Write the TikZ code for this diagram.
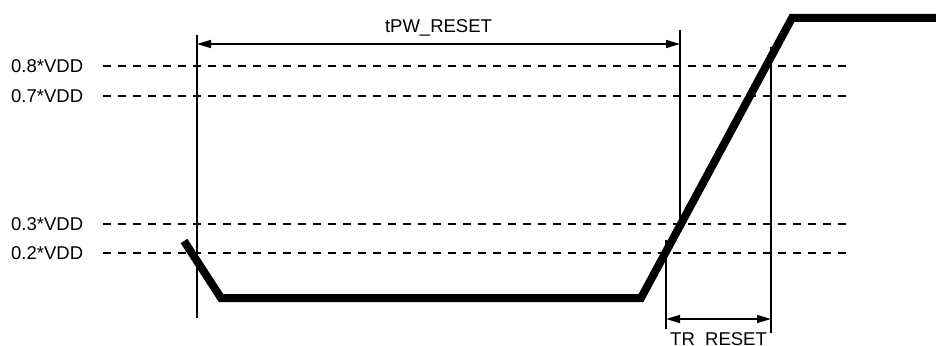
\documentclass[tikz,border=0pt]{standalone}
\usepackage{fontspec}
\setmainfont{Liberation Sans}
\usetikzlibrary{arrows.meta}
\tikzset{
  sig/.style={line width=8pt},
  lvl/.style={line width=1.7pt, dash pattern=on 7.5pt off 7.5pt},
  vline/.style={line width=1.6pt},
  dim/.style={line width=1.6pt, {Triangle[length=14pt,width=8pt]}-{Triangle[length=14pt,width=8pt]}},
  lbl/.style={inner sep=0pt, font=\fontsize{18.5}{21}\selectfont},
}
\begin{document}
\begin{tikzpicture}[x=1pt,y=-1pt]
  \useasboundingbox (0,0) rectangle (936,345);
  % supply levels
  \foreach \lv/\y/\n in {0.8/66/a,0.7/96/b,0.3/224/c,0.2/253/d} {
    \draw[lvl] (103,\y) -- (851,\y);
    \node[lbl, anchor=base west] (lvl\n) at (11,\y+6.5) {\lv*VDD};
  }
  % reset waveform
  \coordinate (w0) at (184,241);
  \coordinate (w1) at (221,298);
  \coordinate (w2) at (641,298);
  \coordinate (w3) at (792,18);
  \coordinate (w4) at (940,18);
  \draw[sig] (w0) -- (w1) -- (w2) -- (w3) -- (w4);
  % markers
  \coordinate (m1t) at (197,35);  \coordinate (m1b) at (197,318);
  \coordinate (m2t) at (680,30);  \coordinate (m2b) at (680,224);
  \coordinate (m3t) at (666,240); \coordinate (m3b) at (666,329);
  \coordinate (m4t) at (771,47);  \coordinate (m4b) at (771,333);
  \draw[vline] (m1t) -- (m1b);
  \draw[vline] (m2t) -- (m2b);
  \draw[vline] (m3t) -- (m3b);
  \draw[vline] (m4t) -- (m4b);
  % pulse width
  \coordinate (pw0) at (197,44);  \coordinate (pw1) at (680,44);
  \draw[dim] (pw0) -- (pw1);
  \node[lbl, anchor=base] (tpw) at (438.5,33) {tPW\_RESET};
  % rise time
  \coordinate (tr0) at (666,319); \coordinate (tr1) at (771,319);
  \draw[dim] (tr0) -- (tr1);
  \node[lbl, anchor=base] (trr) at (718.5,345) {TR\_RESET};
\end{tikzpicture}
\end{document}
